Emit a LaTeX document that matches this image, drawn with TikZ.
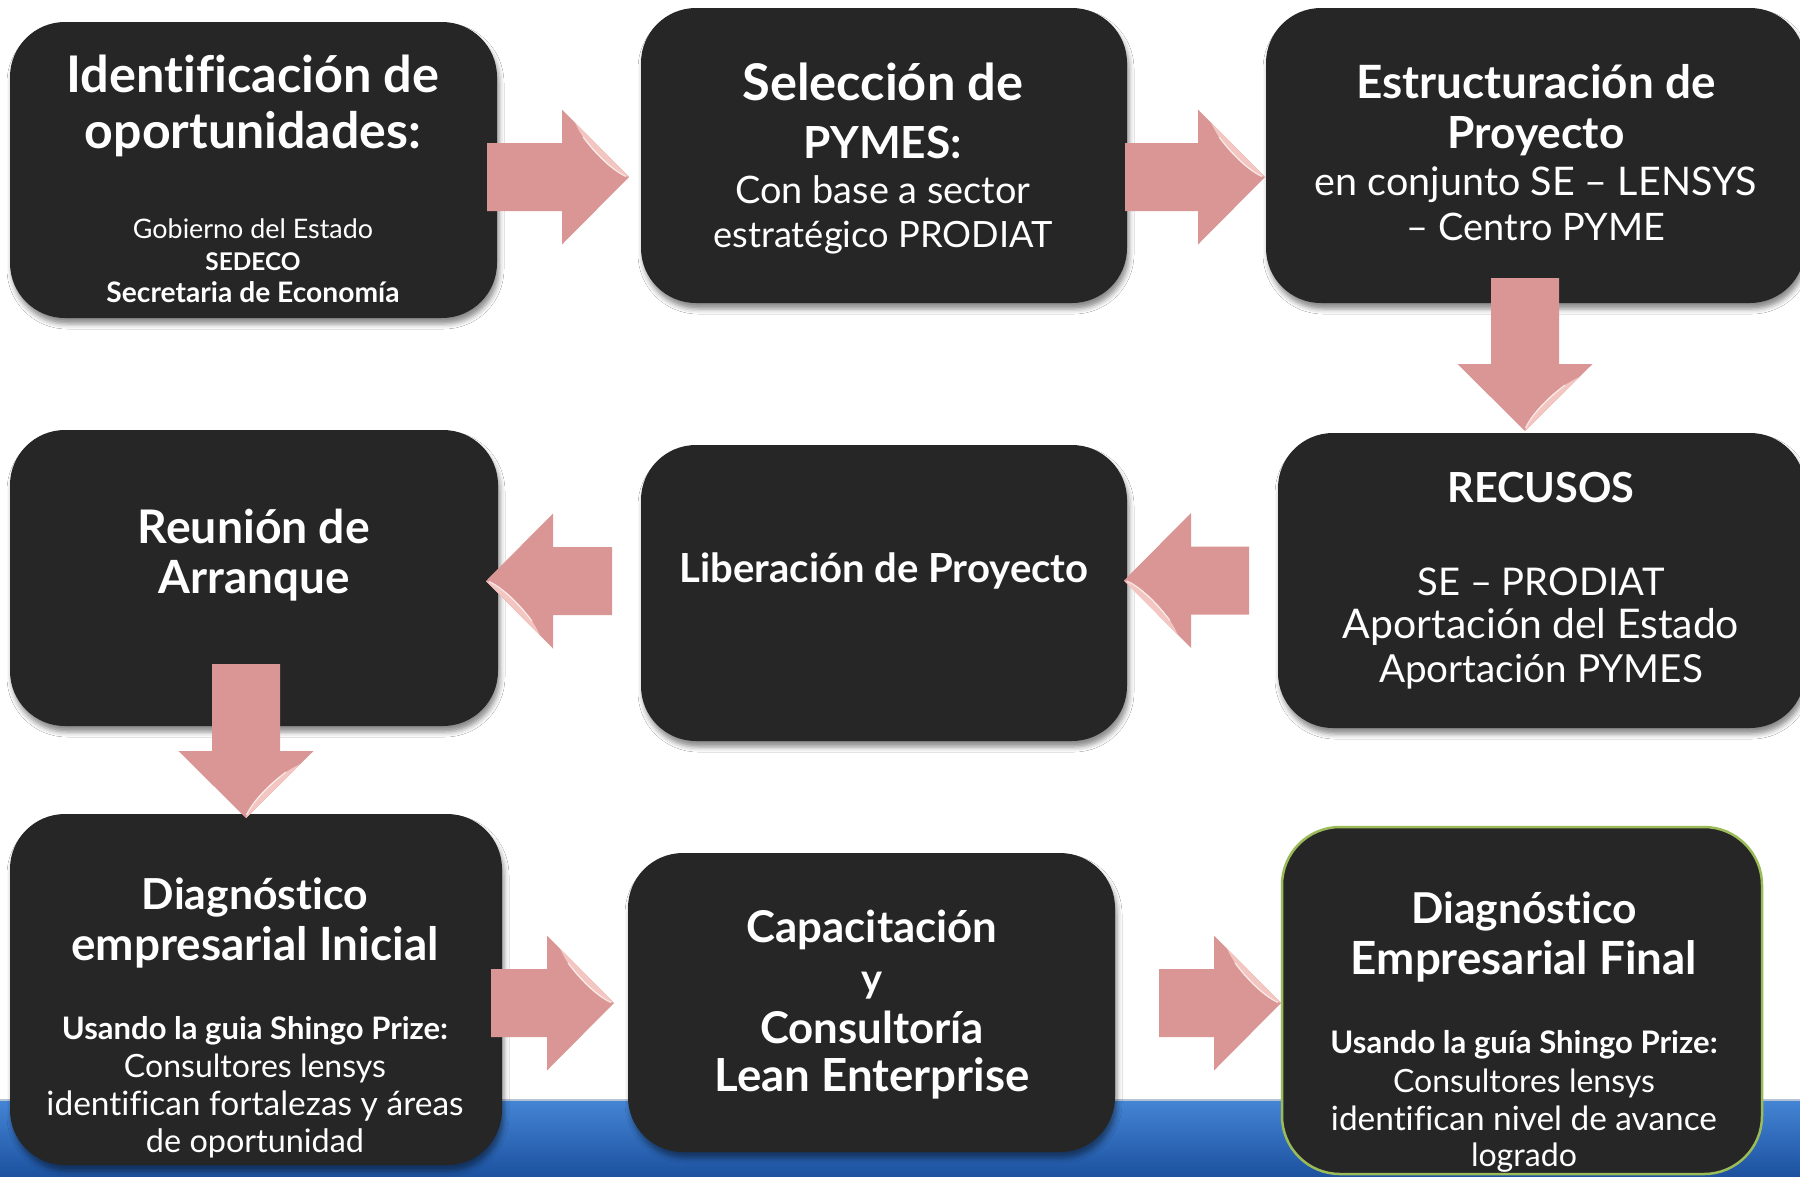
\documentclass[tikz,border=0pt]{standalone}
\usepackage{fontspec}
\setmainfont{Lato}[Ligatures=NoCommon]
\usepackage{graphicx}
\usetikzlibrary{shadows.blur}
\definecolor{boxfill}{HTML}{262626}
\definecolor{arrowpink}{HTML}{D99694}
\definecolor{arrowlight}{HTML}{F3C6C1}
\definecolor{greenb}{HTML}{9BBB59}
\definecolor{bandtop}{HTML}{4484D4}
\definecolor{bandbot}{HTML}{1C52A0}
\definecolor{bandline}{HTML}{B4C2D4}
\newcommand\mytxt[6]{\node[lbl] (#1) at (#2,#3) {\resizebox{#4pt}{!}{#5#6}};}
\begin{document}
\begin{tikzpicture}[x=1pt,y=-1pt,
  box/.style={rectangle, rounded corners=55pt, fill=boxfill, draw=none, inner sep=0pt,
    blur shadow={shadow xshift=2pt, shadow yshift=-6pt, shadow blur radius=5pt, shadow opacity=45}},
  lastbox/.style={rectangle, rounded corners=58pt, fill=boxfill, draw=greenb, line width=2.5pt, inner sep=0pt},
  lbl/.style={anchor=base, text=white, inner sep=0pt},
  pics/barrow/.style={code={
    \fill[arrowpink] (0,0) -- (-67,-67.5) -- (-67,-34) -- (-#1,-34) -- (-#1,34) -- (-67,34) -- (-67,67.5) -- cycle;
    \fill[arrowlight] (0,0) -- (-54,-54.4) .. controls (-42,-28) and (-16,-4) .. (0,0) -- cycle;
    \draw[white, opacity=0.7, line width=1.2pt] (-46,-40) .. controls (-34,-24) and (-16,-6) .. (-3,-0.5);
  }}]
\useasboundingbox (0,0) rectangle (1800,1176);
\clip (0,0) rectangle (1800,1176);
\fill[white] (0,0) rectangle (1800,1176);
% blue band
\shade[top color=bandtop, bottom color=bandbot] (0,1101) rectangle (1800,1176);
\draw[bandline, line width=2pt] (0,1100) -- (1800,1100);
% boxes
\node[box, minimum width=487pt, minimum height=296pt] (b1) at (253.5,170) {};
\node[box, minimum width=486pt, minimum height=295pt] (b2) at (884,155.5) {};
\node[box, minimum width=539pt, minimum height=295pt] (b3) at (1535.5,155.5) {};
\node[box, minimum width=488pt, minimum height=296pt] (b4) at (254,578) {};
\node[box, minimum width=486pt, minimum height=296pt] (b5) at (884,593) {};
\node[box, minimum width=527pt, minimum height=295pt] (b6) at (1541.5,580.5) {};
\node[box, minimum width=492pt, minimum height=351pt] (b7) at (256,989.5) {};
\node[box, minimum width=487pt, minimum height=299pt] (b8) at (871.5,1002.5) {};
\node[lastbox, minimum width=480pt, minimum height=347pt] (b9) at (1522,1000.5) {};
% block arrows
\pic (a1) at (629,177) {barrow=142};
\pic (a2) at (1265,177) {barrow=140};
\pic[rotate=-90] (a3) at (1525,431) {barrow=153};
\pic[rotate=180] (a4) at (1124,580.5) {barrow=125};
\pic[rotate=180] (a5) at (486,581) {barrow=126};
\pic[rotate=-90] (a6) at (246,818) {barrow=154};
\pic (a7) at (614,1003) {barrow=123};
\pic (a8) at (1281,1003) {barrow=122};
% texts box 1
\mytxt{t1a}{253}{92}{373}{\bfseries}{Identificación de}
\mytxt{t1b}{253}{148}{336}{\bfseries}{oportunidades:}
\mytxt{t1c}{253}{238}{240}{\mdseries}{Gobierno del Estado}
\mytxt{t1d}{253}{270}{95}{\bfseries}{SEDECO}
\mytxt{t1e}{253}{302}{293}{\bfseries}{Secretaria de Economía}
% box 2
\mytxt{t2a}{883}{100}{281}{\bfseries}{Selección de}
\mytxt{t2b}{883}{158}{158}{\bfseries}{PYMES:}
\mytxt{t2c}{883}{203}{295}{\mdseries}{Con base a sector}
\mytxt{t2d}{883}{247}{339}{\mdseries}{estratégico PRODIAT}
% box 3
\mytxt{t3a}{1536}{98}{359}{\bfseries}{Estructuración de}
\mytxt{t3b}{1536}{148}{177}{\bfseries}{Proyecto}
\mytxt{t3c}{1536}{195}{442}{\mdseries}{en conjunto SE – LENSYS}
\mytxt{t3d}{1536}{240}{258}{\mdseries}{– Centro PYME}
% box 6
\mytxt{t6a}{1541}{502}{187}{\bfseries}{RECUSOS}
\mytxt{t6b}{1541}{595}{247}{\mdseries}{SE – PRODIAT}
\mytxt{t6c}{1541}{638}{396}{\mdseries}{Aportación del Estado}
\mytxt{t6d}{1541}{682}{324}{\mdseries}{Aportación PYMES}
% box 4
\mytxt{t4a}{254}{543}{232}{\bfseries}{Reunión de}
\mytxt{t4b}{254}{593}{191}{\bfseries}{Arranque}
% box 5
\mytxt{t5a}{884}{582}{409}{\bfseries}{Liberación de Proyecto}
% box 7
\mytxt{t7a}{255}{909}{226}{\bfseries}{Diagnóstico}
\mytxt{t7b}{255}{960}{367}{\bfseries}{empresarial Inicial}
\mytxt{t7c}{255}{1039}{386}{\bfseries}{Usando la guia Shingo Prize:}
\mytxt{t7d}{255}{1077}{262}{\mdseries}{Consultores lensys}
\mytxt{t7e}{255}{1115}{417}{\mdseries}{identifican fortalezas y áreas}
\mytxt{t7f}{255}{1152}{218}{\mdseries}{de oportunidad}
% box 8
\mytxt{t8a}{872}{942}{251}{\bfseries}{Capacitación}
\mytxt{t8b}{872}{992}{21}{\bfseries}{y}
\mytxt{t8c}{872}{1043}{224}{\bfseries}{Consultoría}
\mytxt{t8d}{872}{1091}{315}{\bfseries}{Lean Enterprise}
% box 9
\mytxt{t9a}{1524}{923}{225}{\bfseries}{Diagnóstico}
\mytxt{t9b}{1524}{974}{346}{\bfseries}{Empresarial Final}
\mytxt{t9c}{1524}{1053}{387}{\bfseries}{Usando la guía Shingo Prize:}
\mytxt{t9d}{1524}{1092}{262}{\mdseries}{Consultores lensys}
\mytxt{t9e}{1524}{1130}{386}{\mdseries}{identifican nivel de avance}
\mytxt{t9f}{1524}{1166}{106}{\mdseries}{logrado}
\end{tikzpicture}
\end{document}
